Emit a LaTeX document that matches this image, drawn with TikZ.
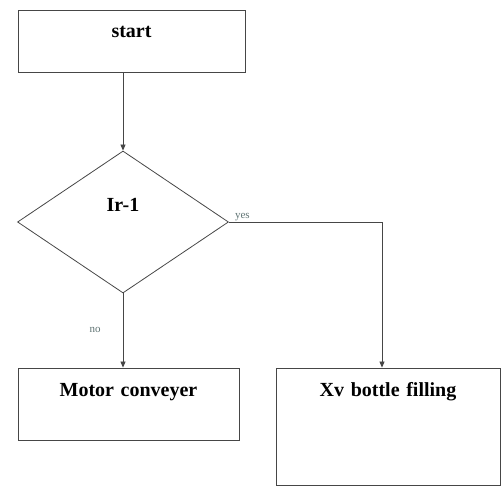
\documentclass[tikz,border=0pt]{standalone}
\usepackage{fontspec}
\setmainfont{Liberation Serif}
\usetikzlibrary{arrows.meta,shapes.geometric}
\definecolor{linegray}{RGB}{70,70,70}
\definecolor{lblgray}{RGB}{95,115,115}
\tikzset{
  box/.style={draw=linegray,line width=0.8pt,inner sep=0pt,align=center,font=\fontsize{20}{22}\selectfont\bfseries,text height=28pt},
  dec/.style={draw=linegray,line width=0.8pt,diamond,inner sep=0pt,minimum width=211pt,minimum height=142pt,font=\fontsize{20}{22}\selectfont\bfseries,text height=12pt,text depth=32pt},
  arr/.style={-{Triangle[length=6pt,width=5pt]},draw=linegray,line width=0.8pt},
  lbl/.style={font=\fontsize{11}{12}\selectfont,text=lblgray,inner sep=1pt}
}

\begin{document}
\begin{tikzpicture}[x=1pt,y=-1pt]
\useasboundingbox (0,0) rectangle (501,486);
\node[box,text width=227pt,text depth=34pt] (start) at (131.5,41) {start};
\node[dec] (ir) at (123,222) {Ir-1};
\node[box,text width=221pt,text depth=44pt] (motor) at (128.5,404) {Motor conveyer};
\node[box,text width=224pt,text depth=89pt] (xv) at (388,426.5) {Xv bottle filling};
\draw[arr] (start.south -| ir.north) -- (ir.north);
\draw[arr] (ir.east) -| ([xshift=-6pt]xv.north);
\draw[arr] (ir.south) -- (ir.south |- motor.north);
\node[lbl,anchor=south west,xshift=5pt] (yes) at (ir.east) {yes};
\node[lbl] (no) at (95,330) {no};
\end{tikzpicture}
\end{document}
